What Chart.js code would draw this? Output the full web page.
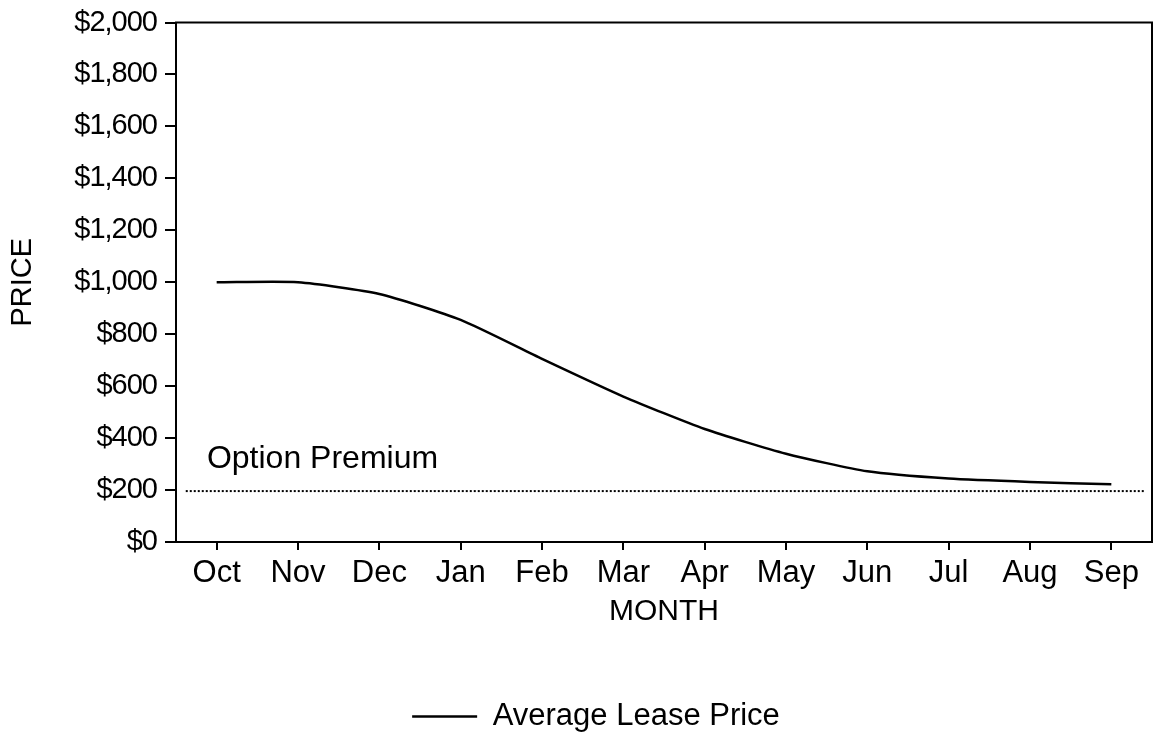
<!DOCTYPE html>
<html>
<head>
<meta charset="utf-8">
<script src="https://cdn.jsdelivr.net/npm/chart.js@4"></script>
<style>
  html, body { margin: 0; padding: 0; background: #fff; }
  #wrap { width: 1158px; height: 742px; }
</style>
</head>
<body>
<div id="wrap"><canvas id="chart"></canvas></div>
<script>
// Data
var months = ['Oct', 'Nov', 'Dec', 'Jan', 'Feb', 'Mar', 'Apr', 'May', 'Jun', 'Jul', 'Aug', 'Sep'];
var leasePrice = [1000, 1000, 955, 855, 705, 560, 435, 340, 272, 244, 231, 222];
var optionPremium = 196;
var premiumStart = 0.62;   // line runs a little past Oct / Sep
var premiumEnd = 12.4;
var premiumLabel = 'Option Premium';

var FONT = '"Liberation Sans", Arial, Helvetica, sans-serif';

// y tick labels are a bit condensed in the original; legend sits a bit right of centre
var tweaks = {
    id: 'tweaks',
    afterLayout: function(chart) {
        var lg = chart.legend;
        lg.left += 20;
        lg.right += 20;
        var ys = chart.scales.y;
        if (ys._tight) return;
        var orig = ys.drawLabels;
        ys.drawLabels = function(area) {
            var c = this.ctx, prev = c.letterSpacing;
            c.letterSpacing = '-1px';
            orig.call(this, area);
            c.letterSpacing = prev;
        };
        ys._tight = true;
    }
};

// box round the plot and the "Option Premium" note
var frameAndNote = {
    id: 'frameAndNote',
    afterDraw: function(chart) {
        var ctx = chart.ctx, a = chart.chartArea;
        var xs = chart.scales.x, ys = chart.scales.y;
        ctx.save();
        ctx.strokeStyle = '#000';
        ctx.lineWidth = 2;
        ctx.strokeRect(a.left, a.top, a.right - a.left, a.bottom - a.top);
        ctx.fillStyle = '#000';
        ctx.font = '32px ' + FONT;
        ctx.textAlign = 'left';
        ctx.textBaseline = 'middle';
        ctx.fillText(premiumLabel, xs.getPixelForValue(0.88), ys.getPixelForValue(318));
        ctx.restore();
    }
};

var leasePoints = months.map(function(m, i) { return { x: i + 1, y: leasePrice[i] }; });
var premiumPoints = [{ x: premiumStart, y: optionPremium }, { x: premiumEnd, y: optionPremium }];

new Chart(document.getElementById('chart'), {
    type: 'line',
    data: {
        datasets: [
            {
                label: 'Average Lease Price',
                data: leasePoints,
                borderColor: '#000',
                backgroundColor: '#000',
                borderWidth: 2.5,
                pointRadius: 0,
                tension: 0.2
            },
            {
                label: 'Option Premium',
                data: premiumPoints,
                borderColor: '#000',
                borderWidth: 2,
                borderDash: [2, 2],
                pointRadius: 0
            }
        ]
    },
    options: {
        responsive: true,
        maintainAspectRatio: false,
        animation: false,
        layout: { padding: { top: 21, right: 6, bottom: 0, left: 0 } },
        plugins: {
            legend: {
                position: 'bottom',
                labels: {
                    color: '#000',
                    font: { family: FONT, size: 31 },
                    usePointStyle: true,
                    pointStyle: 'line',
                    pointStyleWidth: 65,
                    filter: function(item) { return item.datasetIndex === 0; }
                }
            },
            tooltip: { enabled: false }
        },
        scales: {
            x: {
                type: 'linear',
                min: 0.5,
                max: 12.5,
                afterBuildTicks: function(axis) {
                    axis.ticks = months.map(function(m, i) { return { value: i + 1 }; });
                },
                grid: { drawOnChartArea: false, color: '#000', lineWidth: 2, tickLength: 8 },
                border: { color: '#000', width: 2 },
                ticks: {
                    color: '#000',
                    font: { family: FONT, size: 31, lineHeight: 1 },
                    padding: 8,
                    maxRotation: 0,
                    autoSkip: false,
                    callback: function(v) { return months[v - 1]; }
                },
                title: {
                    display: true,
                    text: 'MONTH',
                    color: '#000',
                    font: { family: FONT, size: 30, lineHeight: 1 },
                    padding: { top: 0, bottom: 64 }
                }
            },
            y: {
                min: 0,
                max: 2000,
                afterFit: function(axis) { axis.width = 176; },
                grid: { drawOnChartArea: false, color: '#000', lineWidth: 2, tickLength: 11 },
                border: { color: '#000', width: 2 },
                ticks: {
                    stepSize: 200,
                    color: '#000',
                    font: { family: FONT, size: 29, lineHeight: 1 },
                    padding: 8,
                    callback: function(v) { return '$' + v.toLocaleString('en-US'); }
                },
                title: {
                    display: true,
                    text: 'PRICE',
                    color: '#000',
                    font: { family: FONT, size: 29 },
                    padding: { top: 6, bottom: 0 }
                }
            }
        }
    },
    plugins: [tweaks, frameAndNote]
});
</script>
</body>
</html>
